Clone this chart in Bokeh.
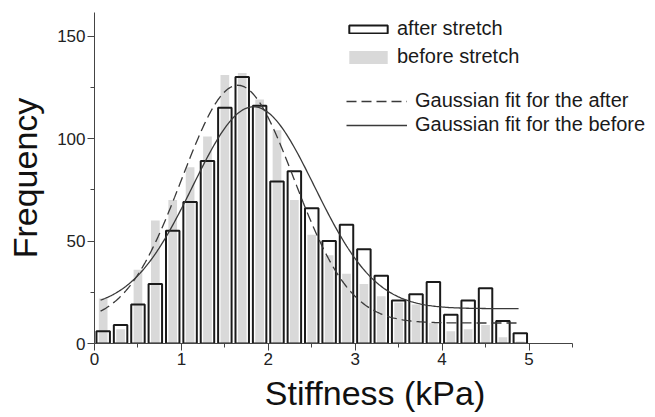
from bokeh.plotting import figure
from bokeh.models import FixedTicker, Legend, LegendItem, Range1d
from bokeh.embed import file_html
from bokeh.resources import INLINE
import numpy as np

# ---- data ----
bin_centers = [0.1, 0.3, 0.5, 0.7, 0.9, 1.1, 1.3, 1.5, 1.7, 1.9, 2.1, 2.3, 2.5,
               2.7, 2.9, 3.1, 3.3, 3.5, 3.7, 3.9, 4.1, 4.3, 4.5, 4.7, 4.9]
after_counts = [6, 9, 19, 29, 55, 69, 89, 115, 130, 116, 79, 84, 66,
                50, 58, 46, 33, 21, 24, 30, 14, 21, 27, 11, 5]
before_counts = [22, 7, 36, 60, 70, 86, 101, 131, 132, 119, 104, 70, 53,
                 43, 34, 29, 23, 20, 19, 10, 6, 7, 9, 3, 1]

# Gaussian fit parameters (offset, amplitude, centre, sigma)
fit_after = dict(y0=10.0, A=116.0, xc=1.65, s=0.645)
fit_before = dict(y0=17.0, A=98.5, xc=1.83, s=0.70)
fit_x_range = (0.07, 4.88)

x_ticks = [0, 1, 2, 3, 4, 5]
x_minor = [0.5, 1.5, 2.5, 3.5, 4.5, 5.5]
y_ticks = [0, 50, 100, 150]
y_minor = [25, 75, 125]
x_axis_end = 5.5

FONT = "Liberation Sans"


def gauss(xs, f):
    return f["y0"] + f["A"] * np.exp(-((xs - f["xc"]) ** 2) / (2 * f["s"] ** 2))


xs = np.linspace(fit_x_range[0], fit_x_range[1], 300)

W, H = 655, 414
left, top, bottom = 94, 12, 71
px_per_unit = 86.9
x_end = (W - left) / px_per_unit

p = figure(width=W, height=H, output_backend="svg", toolbar_location=None,
           x_range=Range1d(0, x_end), y_range=Range1d(0, 161.5),
           min_border_left=left, min_border_right=0, min_border_top=top,
           min_border_bottom=bottom)
p.outline_line_color = None
p.grid.visible = False
p.background_fill_color = "white"

r_before = p.vbar(x=bin_centers, width=0.1, top=before_counts, bottom=0,
                  fill_color="#d9d9d9", line_color=None)
r_after = p.vbar(x=bin_centers, width=0.155, top=after_counts, bottom=0,
                 fill_color=None, line_color="#1a1a1a", line_width=2)
r_fa = p.line(xs, gauss(xs, fit_after), line_color="#3a3a3a", line_width=1.3, line_dash="10 5")
r_fb = p.line(xs, gauss(xs, fit_before), line_color="#3a3a3a", line_width=1.3)

for ax in (p.xaxis[0], p.yaxis[0]):
    ax.axis_line_color = "#444444"
    ax.axis_line_width = 1
    ax.major_tick_line_color = "#444444"
    ax.minor_tick_line_color = "#444444"
    ax.major_tick_in = 0
    ax.minor_tick_in = 0
    ax.major_tick_out = 7
    ax.minor_tick_out = 4
    ax.major_label_text_font = FONT
    ax.major_label_text_font_size = "17px"
    ax.major_label_text_color = "#222222"
    ax.axis_label_text_font = FONT
    ax.axis_label_text_font_size = "34px"
    ax.axis_label_text_font_style = "normal"
    ax.axis_label_text_color = "#111111"

p.xaxis[0].bounds = (0, x_axis_end)
p.xaxis[0].ticker = FixedTicker(ticks=x_ticks, minor_ticks=x_minor)
p.yaxis[0].ticker = FixedTicker(ticks=y_ticks, minor_ticks=y_minor)
p.xaxis[0].axis_label = "Stiffness (kPa)"
p.yaxis[0].axis_label = "Frequency"
p.xaxis[0].major_label_standoff = 2
p.yaxis[0].major_label_standoff = 2
p.xaxis[0].axis_label_standoff = 6
p.yaxis[0].axis_label_standoff = 10


def make_legend(label, rend, loc, gw, gh, standoff):
    leg = Legend(items=[LegendItem(label=label, renderers=[rend])], location=loc,
                 glyph_width=gw, glyph_height=gh, label_standoff=standoff,
                 label_text_font=FONT, label_text_font_size="20px",
                 label_text_color="#1a1a1a", label_height=20,
                 border_line_color=None, background_fill_alpha=0,
                 padding=0, margin=0, spacing=0)
    p.add_layout(leg)


make_legend("after stretch", r_after, (250, 303), 48, 10, 5)
make_legend("before stretch", r_before, (250, 275), 48, 16, 5)
make_legend("Gaussian fit for the after", r_fa, (252, 231), 61, 20, 8)
make_legend("Gaussian fit for the before", r_fb, (252, 207), 61, 20, 8)

open("out.html", "w").write(file_html(p, INLINE))
